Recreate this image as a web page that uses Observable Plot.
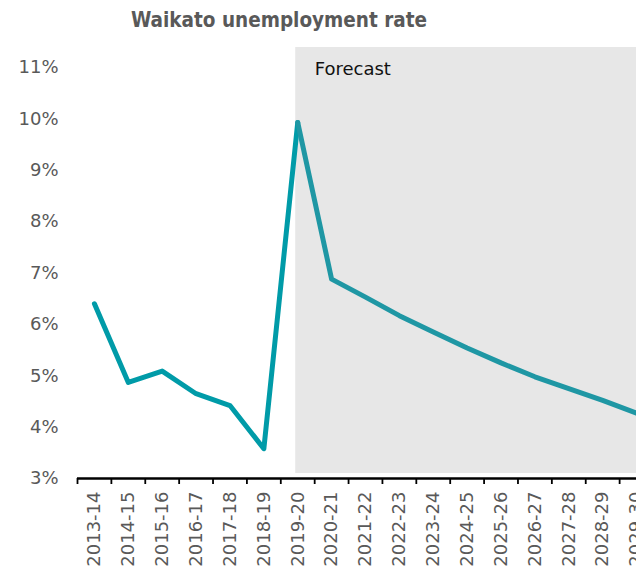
<!DOCTYPE html>
<html>
<head>
<meta charset="utf-8">
<script src="https://cdn.jsdelivr.net/npm/d3@7"></script>
<script src="https://cdn.jsdelivr.net/npm/@observablehq/plot@0.6"></script>
<style>
  html, body { margin: 0; padding: 0; background: #fff; overflow: hidden; width: 636px; height: 571px; }
  #title { width: 558px; height: 40px; text-align: center; font-family: "DejaVu Sans Condensed", "DejaVu Sans", sans-serif; font-weight: bold; font-size: 20.5px; color: #595959; line-height: 40px; padding-top: 0; }
  #chart svg { display: block; }
</style>
</head>
<body>
<div id="title">Waikato unemployment rate</div>
<div id="chart"></div>
<script>
const years = ["2013-14","2014-15","2015-16","2016-17","2017-18","2018-19","2019-20","2020-21","2021-22","2022-23","2023-24","2024-25","2025-26","2026-27","2027-28","2028-29","2029-30"];
const actual = [6.40, 4.87, 5.09, 4.65, 4.42, 3.58, 9.93, null, null, null, null, null, null, null, null, null, null];
const forecast = [null, null, null, null, null, null, 9.93, 6.88, 6.53, 6.17, 5.85, 5.54, 5.25, 4.98, 4.75, 4.52, 4.27];
const yTicks = [3, 4, 5, 6, 7, 8, 9, 10, 11];
const forecastStart = "2019-20";
const forecastLabel = "Forecast";

const idx = years.map((y, i) => i);
const actualData = idx.filter(i => actual[i] != null).map(i => ({i, v: actual[i]}));
const forecastData = idx.filter(i => forecast[i] != null).map(i => ({i, v: forecast[i]}));
const fIdx = years.indexOf(forecastStart);

const plot = Plot.plot({
  width: 636,
  height: 531,
  marginTop: 27,
  marginBottom: 93,
  marginLeft: 77,
  marginRight: 0,
  style: { fontFamily: "DejaVu Sans, sans-serif", fontSize: "18px", color: "#595959", background: "transparent" },
  x: { type: "linear", domain: [-0.5, years.length - 0.5], range: [77, 653], axis: null, label: null },
  y: { domain: [3, 11], axis: null, label: null },
  marks: [
    Plot.rect([0], { x1: fIdx, x2: years.length - 0.5, y1: 3, y2: 11.39, fill: "#E7E7E7", insetLeft: -2, insetBottom: 5 }),
    Plot.text([forecastLabel], { x: fIdx + 0.5, y: 11, text: d => d, textAnchor: "start", fill: "#111", fontSize: 18, dy: 2 }),
    Plot.axisY({ ticks: yTicks, tickFormat: d => d + "%", tickSize: 0, tickPadding: 19, fontSize: 18, label: null }),
    Plot.axisX({ ticks: idx, tickFormat: i => years[i], tickRotate: -90, tickSize: 0, tickPadding: 13, fontSize: 18, label: null }),
    Plot.axisX({ ticks: idx.map(i => i - 0.5), tickFormat: () => "", tickSize: 6, stroke: "#000", strokeWidth: 1.8, strokeOpacity: 1, label: null }),
    Plot.ruleY([3], { stroke: "#000", strokeWidth: 2.5 }),
    Plot.line(actualData, { x: "i", y: "v", stroke: "#009BA8", strokeWidth: 5, strokeLinejoin: "round", strokeLinecap: "round" }),
    Plot.line(forecastData, { x: "i", y: "v", stroke: "#1F97A4", strokeWidth: 5, strokeLinejoin: "round", strokeLinecap: "round" })
  ]
});
document.getElementById("chart").appendChild(plot);
</script>
</body>
</html>
